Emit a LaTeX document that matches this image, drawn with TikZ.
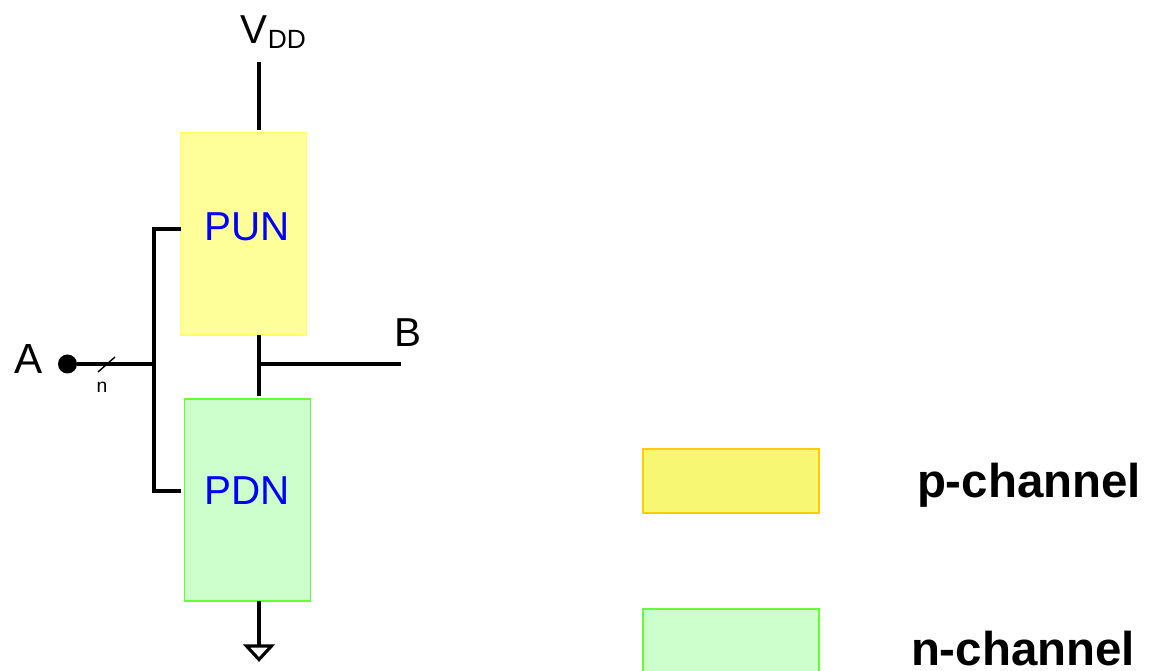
\documentclass[tikz,border=0pt]{standalone}
\usepackage{fontspec}
\setmainfont{Liberation Sans}
\definecolor{punfill}{HTML}{FFFF99}
\definecolor{pdnfill}{HTML}{CCFFCC}
\definecolor{punedge}{HTML}{FFFF66}
\definecolor{pdnedge}{HTML}{66FF33}
\definecolor{keyfill}{HTML}{F7F774}
\definecolor{keyedge}{HTML}{FFCC00}
\newlength{\pxu}
\setlength{\pxu}{0.02cm}
\tikzset{
  net/.style={draw=punedge, fill=punfill, minimum width=126\pxu, minimum height=202\pxu, inner sep=0pt, line width=0.8pt},
  wire/.style={line width=1.8pt},
  sig/.style={font=\fontsize{23}{26}\selectfont, inner sep=0pt},
  swatch/.style={minimum width=176\pxu, minimum height=64\pxu, inner sep=0pt, line width=0.8pt},
  keytext/.style={font=\fontsize{27}{30}\selectfont\bfseries, inner sep=0pt, anchor=base},
}
\begin{document}
\begin{tikzpicture}[x=0.02cm, y=-0.02cm]
  \useasboundingbox (0,0) rectangle (1151,671);
  \clip (0,0) rectangle (1151,671);

  % networks
  \node[net] (pun) at (243.5,234) {};
  \node[net, draw=pdnedge, fill=pdnfill] (pdn) at (247.5,500) {};
  \node[sig, text=blue] (puntext) at (247,227) {PUN};
  \node[sig, text=blue] (pdntext) at (247,491) {PDN};

  % supply and output
  \node[sig, anchor=base] (vdd) at (273.5,44) {V\fontsize{15}{16}\selectfont\raisebox{-2.8pt}{DD}};
  \coordinate (vddend) at (259,62);
  \coordinate (puntop) at (259,130);
  \coordinate (punbot) at (259,335);
  \coordinate (pdntop) at (259,396);
  \coordinate (pdnbot) at (259,601);
  \coordinate (gndtop) at (259,646);
  \coordinate (mid) at (259,364);
  \node[sig] (b) at (407.5,333) {B};
  \coordinate (bend) at (401,364);
  \draw[wire] (vddend) -- (puntop);
  \draw[wire] (punbot) -- (pdntop);
  \draw[wire] (mid) -- (bend);
  \draw[wire] (pdnbot) -- (gndtop);
  \draw[wire] (gndtop) -- (246.5,646) -- (259,659.5) -- (271.5,646) -- cycle;

  % input
  \node[sig, font=\fontsize{24}{26}\selectfont] (a) at (28.5,359) {A};
  \node[circle, fill=black, inner sep=0pt, minimum size=19\pxu] (adot) at (67.5,364) {};
  \coordinate (tee) at (154,364);
  \coordinate (pungate) at (181,229);
  \coordinate (pdngate) at (181,491);
  \draw[wire] (adot) -- (tee);
  \draw[wire] (pungate) -| (tee);
  \draw[wire] (pdngate) -| (tee);
  \coordinate (slashlo) at (98,372);
  \coordinate (slashhi) at (115,357);
  \draw[line width=0.8pt] (slashlo) -- (slashhi);
  \node[font=\fontsize{11}{12}\selectfont, inner sep=0pt] (n) at (102,387) {n};

  % legend
  \node[swatch, draw=keyedge, fill=keyfill] (pkey) at (731,481) {};
  \node[swatch, draw=pdnedge, fill=pdnfill] (nkey) at (731,641) {};
  \node[keytext] (ptext) at (1029,497) {p-channel};
  \node[keytext] (ntext) at (1023,665) {n-channel};
\end{tikzpicture}
\end{document}
